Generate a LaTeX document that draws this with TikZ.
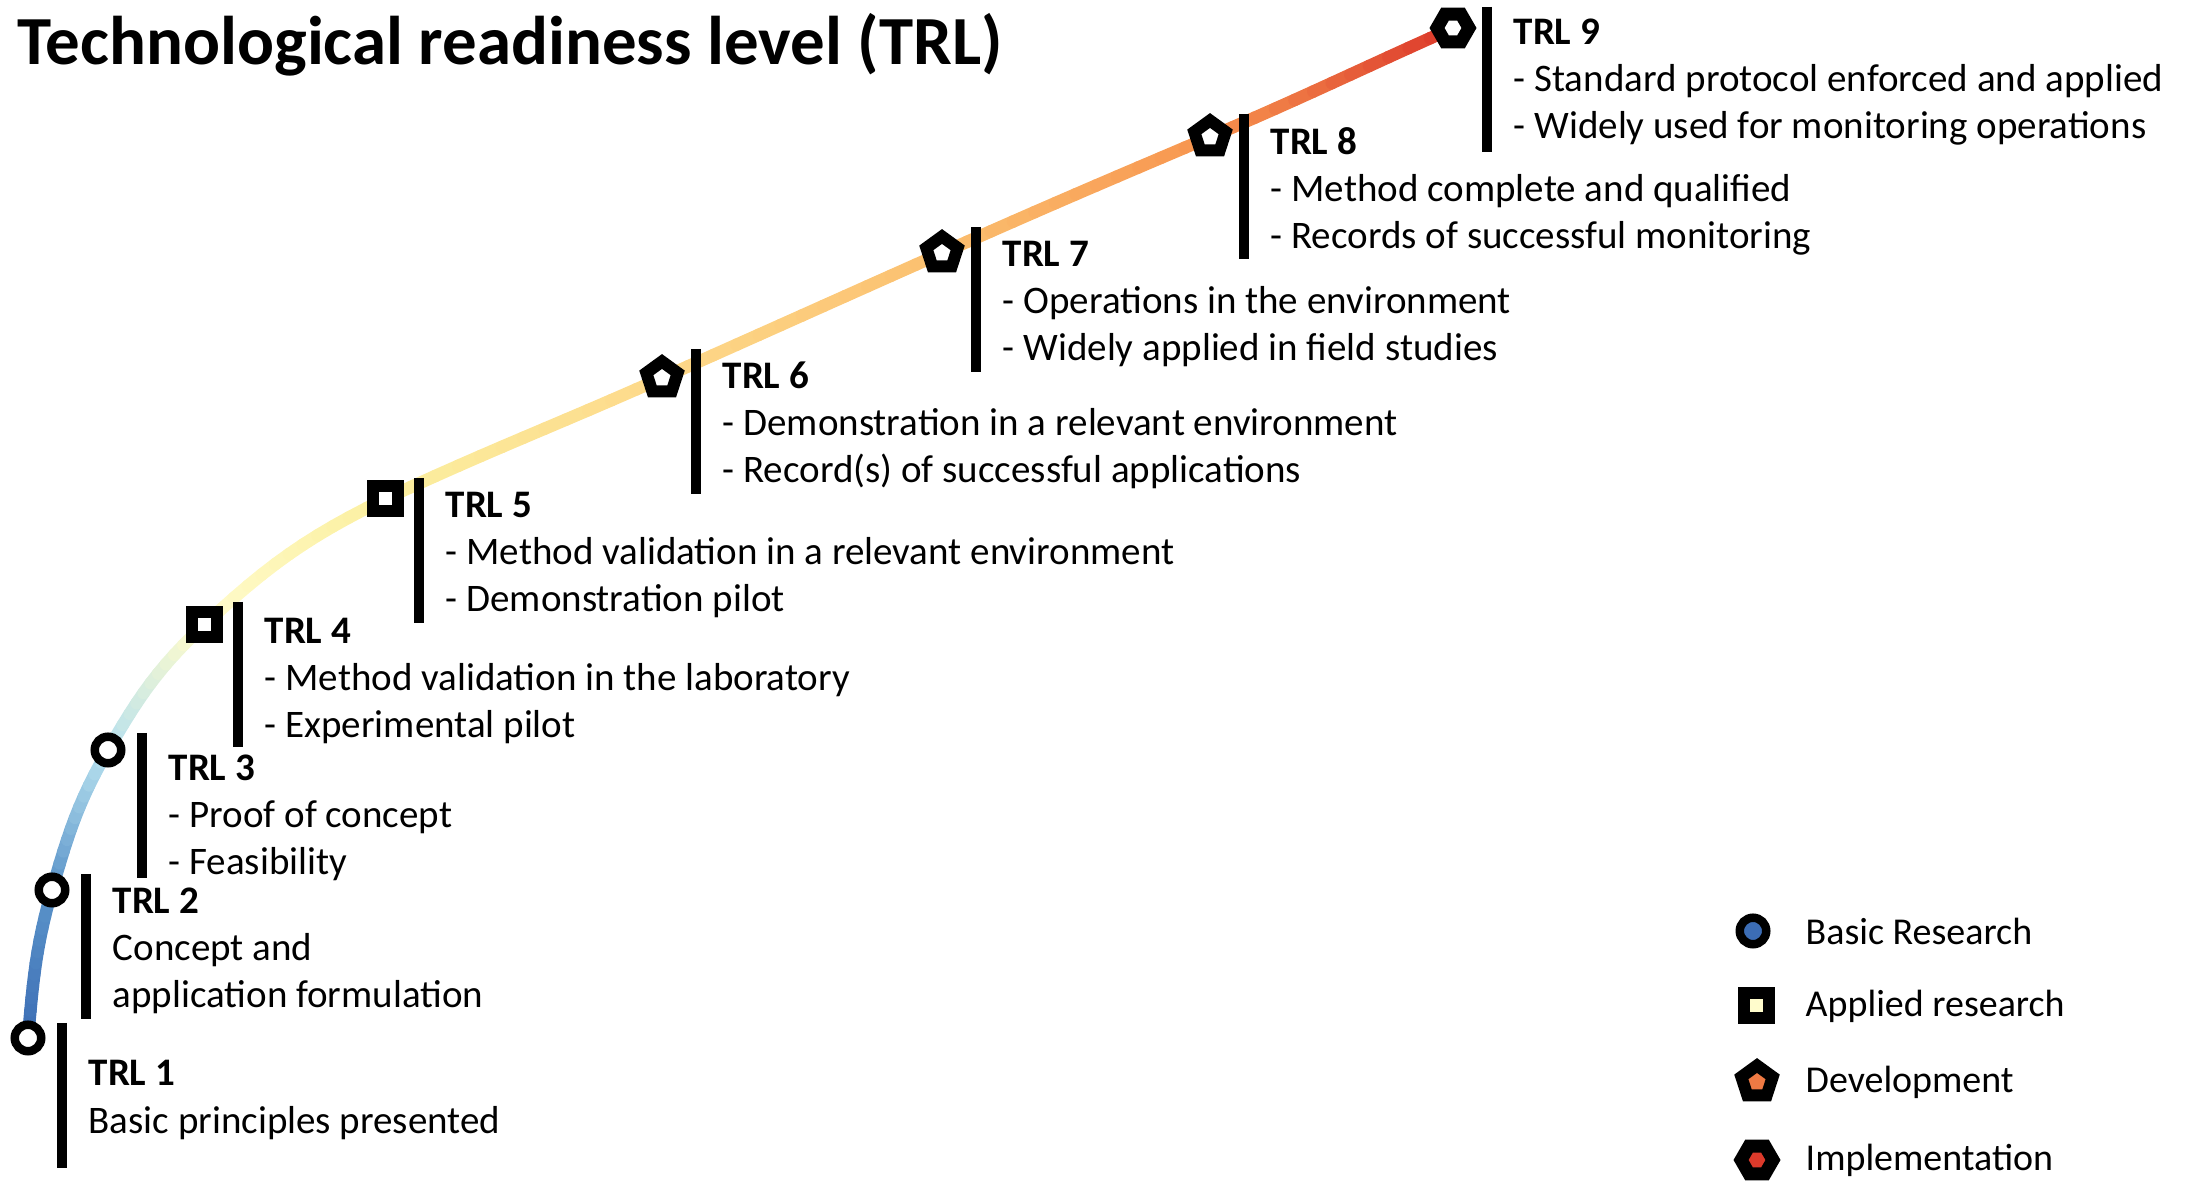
\documentclass[tikz,border=0pt]{standalone}
\usepackage{fontspec}
\setmainfont{Carlito}
\usetikzlibrary{shapes.geometric}
\definecolor{c1}{HTML}{3C6DB5}\definecolor{c2}{HTML}{5A93C9}\definecolor{c3}{HTML}{B6E0EE}
\definecolor{c4}{HTML}{FFFCCC}\definecolor{c5}{HTML}{FBEFA0}\definecolor{c6}{HTML}{FDD98A}
\definecolor{c7}{HTML}{FBC070}\definecolor{c8}{HTML}{F7954F}\definecolor{c9}{HTML}{DC3A2B}
\tikzset{
 mk/.style={draw=black,fill=white,inner sep=0pt,outer sep=0pt},
 rnd/.style={mk,circle,minimum size=0.265cm,line width=0.085cm},
 sqr/.style={mk,rectangle,minimum size=0.25cm,line width=0.12cm},
 pent/.style={mk,regular polygon,regular polygon sides=5,minimum size=0.33cm,line width=0.12cm},
 hexa/.style={mk,regular polygon,regular polygon sides=6,minimum size=0.32cm,line width=0.13cm},
 trail/.style={line width=0.125cm,line cap=round},
 bar/.style={line width=0.1cm},
 lvl/.style={anchor=west,inner sep=0pt,align=left,font=\fontsize{11.1}{13.4}\selectfont},
 leg/.style={anchor=west,inner sep=0pt,font=\fontsize{10.8}{13}\selectfont}
}
\begin{document}
\begin{tikzpicture}
 \useasboundingbox (0,0) rectangle (21.88,11.81);
 \node[anchor=base west,inner sep=0pt,font=\fontsize{19.6}{22}\selectfont\bfseries] (title) at (0.17,11.16) {Technological readiness level (TRL)};
 % points of the readiness path
 \coordinate (p1) at (0.28,1.43); \coordinate (p2) at (0.52,2.91); \coordinate (p3) at (1.08,4.31);
 \coordinate (p4) at (2.04,5.56); \coordinate (p5) at (3.85,6.82); \coordinate (p6) at (6.62,8.03);
 \coordinate (p7) at (9.42,9.28); \coordinate (p8) at (12.10,10.44); \coordinate (p9) at (14.53,11.53);
 \foreach \a/\b/\o/\i in {1/2/85/254,2/3/74/240,3/4/60/223,4/5/43/206,5/6/25/204,6/7/24/204,7/8/24/203,8/9/23/204}
  \foreach \k in {1,...,12} {
   \pgfmathsetmacro\s{(\k-1)/12} \pgfmathsetmacro\t{\k/12} \pgfmathtruncatemacro\pc{(\k-0.5)/12*100}
   \path (p\a) to[out=\o,in=\i] coordinate[pos=\s] (s) coordinate[pos=\t] (e) (p\b);
   \draw[trail,color=c\b!\pc!c\a] (s) -- (e);
  }
 % markers
 \node[rnd] (m1) at (p1) {}; \node[rnd] (m2) at (p2) {}; \node[rnd] (m3) at (p3) {};
 \node[sqr] (m4) at (p4) {}; \node[sqr] (m5) at (p5) {};
 \node[pent] (m6) at (p6) {}; \node[pent] (m7) at (p7) {}; \node[pent] (m8) at (p8) {};
 \node[hexa] (m9) at (p9) {};
 % bars and texts
 \foreach \n/\dy/\ty/\txt in {
  1/0.15/0.68/{Basic principles presented},
  2/0.16/0.68/{Concept and\\application formulation},
  3/0.17/0.60/{- Proof of concept\\- Feasibility},
  4/0.23/0.66/{- Method validation in the laboratory\\- Experimental pilot},
  5/0.21/0.68/{- Method validation in a relevant environment\\- Demonstration pilot},
  6/0.29/0.69/{- Demonstration in a relevant environment\\- Record(s) of successful applications},
  7/0.26/0.68/{- Operations in the environment\\- Widely applied in field studies},
  8/0.23/0.68/{- Method complete and qualified\\- Records of successful monitoring},
  9/0.21/0.70/{- Standard protocol enforced and applied\\- Widely used for monitoring operations}} {
  \coordinate (b\n) at ([shift={(0.34,\dy)}]p\n);
  \draw[bar] (b\n) -- ++(0,-1.45) coordinate (bb\n);
  \node[lvl] (t\n) at ([shift={(0.26,\ty)}]bb\n) {\textbf{TRL \n}\\\txt};
 }
 % legend
 \node[rnd,fill=c1] (l1) at (17.53,2.50) {}; \node[leg] (lt1) at (18.05,2.50) {Basic Research};
 \node[sqr,fill=c4] (l2) at (17.56,1.75) {}; \node[leg] (lt2) at (18.05,1.75) {Applied research};
 \node[pent,fill=c8!70!c9] (l3) at (17.57,0.99) {}; \node[leg] (lt3) at (18.05,0.99) {Development};
 \node[hexa,fill=c9] (l4) at (17.57,0.21) {}; \node[leg] (lt4) at (18.05,0.21) {Implementation};
\end{tikzpicture}
\end{document}
